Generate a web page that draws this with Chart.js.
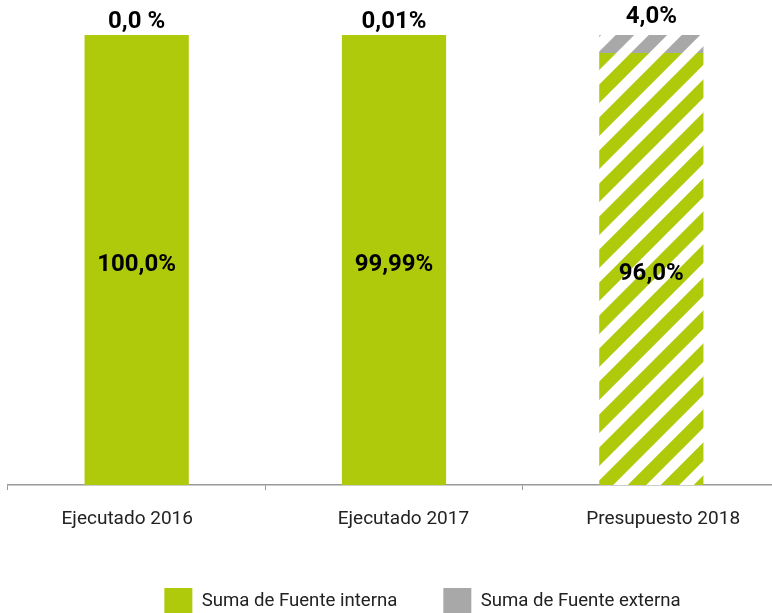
<!DOCTYPE html>
<html>
<head>
<meta charset="utf-8">
<script src="https://cdn.jsdelivr.net/npm/chart.js@4/dist/chart.umd.min.js"></script>
<style>
html,body{margin:0;padding:0;background:#fff;overflow:hidden;}
#wrap{width:772px;height:613px;overflow:hidden;position:relative;}
#c{display:block;}
</style>
</head>
<body>
<div id="wrap"><canvas id="c" width="780" height="613" style="width:780px;height:613px"></canvas></div>
<script>
const categories = ["Ejecutado 2016", "Ejecutado 2017", "Presupuesto 2018"];
const interna = [100, 99.99, 96];
const externa = [0, 0.01, 4];
const internaLabels = ["100,0%", "99,99%", "96,0%"];
const externaLabels = ["0,0 %", "0,01%", "4,0%"];
const seriesNames = ["Suma de Fuente interna", "Suma de Fuente externa"];
const projected = [false, false, true];

const GREEN = "#AFC90B";
const GRAY = "#A8A8A8";

// small visual nudges of the category labels (leading / trailing spaces)
const tickLead = [0, 4, 5];
const tickTrail = [4, 0, 0];

function stripePattern(color) {
  const s = 33;
  const cv = document.createElement("canvas");
  cv.width = s; cv.height = s;
  const g = cv.getContext("2d");
  g.fillStyle = "#fff";
  g.fillRect(0, 0, s, s);
  g.strokeStyle = color;
  g.lineWidth = 13;
  g.beginPath();
  for (let k = -1; k <= 1; k++) {
    g.moveTo(k * s - s, s + s);
    g.lineTo(k * s + s + s, -s);
  }
  g.stroke();
  const ctx = document.getElementById("c").getContext("2d");
  return ctx.createPattern(cv, "repeat");
}
const greenPat = stripePattern(GREEN);
const grayPat = stripePattern(GRAY);

const labelPlugin = {
  id: "valueLabels",
  afterDatasetsDraw(chart) {
    const ctx = chart.ctx;
    ctx.save();
    ctx.font = "bold 24px Roboto";
    ctx.fillStyle = "#000";
    ctx.textAlign = "center";
    ctx.textBaseline = "middle";
    const m0 = chart.getDatasetMeta(0);
    const m1 = chart.getDatasetMeta(1);
    m0.data.forEach((bar, i) => {
      const y = (bar.y + bar.base) / 2 + 5;
      ctx.fillText(internaLabels[i], bar.x, y);
    });
    m1.data.forEach((bar, i) => {
      const off = projected[i] ? 18 : 13;
      ctx.fillText(externaLabels[i], bar.x, Math.min(bar.y, bar.base) - off);
    });
    ctx.restore();
  }
};

new Chart(document.getElementById("c"), {
  type: "bar",
  data: {
    labels: categories,
    datasets: [
      {
        label: seriesNames[0],
        data: interna,
        backgroundColor: projected.map(p => p ? greenPat : GREEN),
        borderWidth: 0,
        barPercentage: 0.405,
        categoryPercentage: 1.0
      },
      {
        label: seriesNames[1],
        data: externa,
        backgroundColor: projected.map(p => p ? grayPat : GRAY),
        borderWidth: 0,
        barPercentage: 0.405,
        categoryPercentage: 1.0
      }
    ]
  },
  plugins: [labelPlugin],
  options: {
    responsive: false,
    animation: false,
    layout: { padding: { top: 35, left: 8, right: -57, bottom: -12 } },
    plugins: {
      tooltip: { enabled: false },
      legend: {
        position: "bottom",
        labels: {
          boxWidth: 28,
          boxHeight: 27,
          padding: 46,
          color: "#222",
          font: { family: "Roboto", size: 18.6 },
          generateLabels(chart) {
            return seriesNames.map((n, i) => ({
              text: n,
              fillStyle: i === 0 ? GREEN : GRAY,
              strokeStyle: "transparent",
              lineWidth: 0,
              datasetIndex: i,
              fontColor: "#222"
            }));
          }
        }
      }
    },
    scales: {
      x: {
        stacked: true,
        afterFit(scale) { scale.height = 57; },
        grid: {
          display: true,
          offset: true,
          drawOnChartArea: false,
          drawTicks: true,
          tickLength: 5,
          color: "#999"
        },
        border: { display: true, color: "#999", width: 1.5 },
        ticks: {
          color: "#222",
          padding: 18,
          font: { family: "Roboto", size: 19 },
          callback(value, index) {
            return " ".repeat(tickLead[index]) + categories[index] + " ".repeat(tickTrail[index]);
          }
        }
      },
      y: {
        stacked: true,
        display: false,
        min: 0,
        max: 100
      }
    }
  }
});
</script>
</body>
</html>
